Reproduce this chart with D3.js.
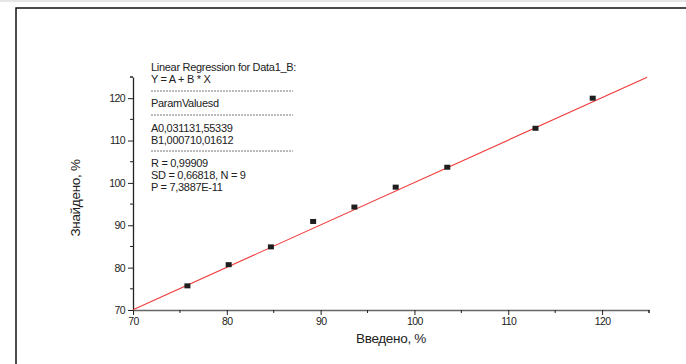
<!DOCTYPE html>
<html>
<head>
<meta charset="utf-8">
<script src="https://cdn.jsdelivr.net/npm/d3@7"></script>
<style>
  body { margin: 0; background: #fff; }
  svg { display: block; font-family: Arial, "Liberation Sans", sans-serif; }
</style>
</head>
<body>
<figure id="scatter" style="margin:0"></figure>
<script>
// measured points (Введено, Знайдено)
const xVals = [75.8, 80.2, 84.7, 89.2, 93.6, 98.0, 103.5, 112.9, 119.0];
const yVals = [75.7, 80.7, 84.9, 90.9, 94.3, 99.0, 103.7, 112.9, 120.0];
const xTicks = [70, 80, 90, 100, 110, 120];
const yTicks = [70, 80, 90, 100, 110, 120];
const fitA = 0.03113;
const fitB = 1.00071;
const fitRange = [70, 124.8];
const legendLines = [
  "Linear Regression for Data1_B:",
  "Y = A + B * X",
  "---",
  "ParamValuesd",
  "---",
  "A0,031131,55339",
  "B1,000710,01612",
  "---",
  "R = 0,99909",
  "SD = 0,66818, N = 9",
  "P = 7,3887E-11"
];

const width = 686, height = 364;
const plotLeft = 133, plotRight = 649, plotTop = 77, plotBottom = 310;

const svg = d3.select("figure#scatter")
  .append("svg")
  .attr("width", width)
  .attr("height", height);

// page edge and outer frame
svg.append("rect").attr("x", 0).attr("y", 0).attr("width", width).attr("height", 2).attr("fill", "#e6e6e6");
svg.append("path")
  .attr("d", "M16," + (height + 2) + "V8H" + (width + 2))
  .attr("fill", "none").attr("stroke", "#111").attr("stroke-width", 1.5);

const x = d3.scaleLinear().domain([70, 125]).range([plotLeft, plotRight]);
const y = d3.scaleLinear().domain([70, 125]).range([plotBottom, plotTop]);

// minor ticks
const minor = d3.range(75, 126, 10);

const xAxis = svg.append("g")
  .attr("transform", "translate(0," + plotBottom + ")")
  .call(d3.axisBottom(x).tickValues(xTicks).tickSize(5).tickSizeOuter(0).tickPadding(3));
xAxis.append("g").selectAll("line")
  .data(minor.concat([125]))
  .enter().append("line")
  .attr("x1", d => x(d)).attr("x2", d => x(d))
  .attr("y1", 0).attr("y2", 3)
  .attr("stroke", "#222");

const yAxis = svg.append("g")
  .attr("transform", "translate(" + plotLeft + ",0)")
  .call(d3.axisLeft(y).tickValues(yTicks).tickSize(5).tickSizeOuter(0).tickPadding(3));
yAxis.append("g").selectAll("line")
  .data(minor.concat([125]))
  .enter().append("line")
  .attr("y1", d => y(d)).attr("y2", d => y(d))
  .attr("x1", 0).attr("x2", -3)
  .attr("stroke", "#222");

svg.selectAll(".domain").attr("stroke", "#222").attr("stroke-width", 1.3);
xAxis.select(".domain").attr("stroke", "#666");
svg.selectAll(".tick line").attr("stroke", "#222");
svg.selectAll(".tick text")
  .attr("font-size", 10.5)
  .attr("font-family", "Arial, 'Liberation Sans', sans-serif")
  .attr("letter-spacing", -0.6)
  .attr("fill", "#222");

// fit line
svg.append("line")
  .attr("x1", x(fitRange[0])).attr("y1", y(fitA + fitB * fitRange[0]))
  .attr("x2", x(fitRange[1])).attr("y2", y(fitA + fitB * fitRange[1]))
  .attr("stroke", "#f03a3a").attr("stroke-width", 1.1);

// points
svg.selectAll("rect.pt")
  .data(xVals.map((v, i) => [v, yVals[i]]))
  .enter().append("rect")
  .attr("class", "pt")
  .attr("x", d => x(d[0]) - 3)
  .attr("y", d => y(d[1]) - 2.5)
  .attr("width", 6)
  .attr("height", 5)
  .attr("fill", "#1e1e1e");

// axis titles
svg.append("text")
  .attr("x", 391).attr("y", 343)
  .attr("text-anchor", "middle")
  .attr("font-size", 13.5)
  .attr("letter-spacing", -0.3)
  .attr("fill", "#222")
  .text("Введено, %");

svg.append("text")
  .attr("transform", "translate(80,198) rotate(-90)")
  .attr("text-anchor", "middle")
  .attr("font-size", 13.5)
  .attr("letter-spacing", -0.3)
  .attr("fill", "#222")
  .text("Знайдено, %");

// regression report
const legend = svg.append("g").attr("transform", "translate(151,0)");
const lineY = [67, 79, 91, 103, 115, 128, 140, 151, 163, 175, 187];
legendLines.forEach((t, i) => {
  if (t === "---") {
    legend.append("line")
      .attr("x1", 0).attr("x2", 142)
      .attr("y1", lineY[i]).attr("y2", lineY[i])
      .attr("stroke", "#555").attr("stroke-width", 0.8)
      .attr("stroke-dasharray", "2,1");
  } else {
    legend.append("text")
      .attr("x", 0).attr("y", lineY[i])
      .attr("dy", "0.35em")
      .attr("font-size", 11)
      .attr("letter-spacing", -0.3)
      .attr("fill", "#222")
      .text(t);
  }
});
</script>
</body>
</html>
